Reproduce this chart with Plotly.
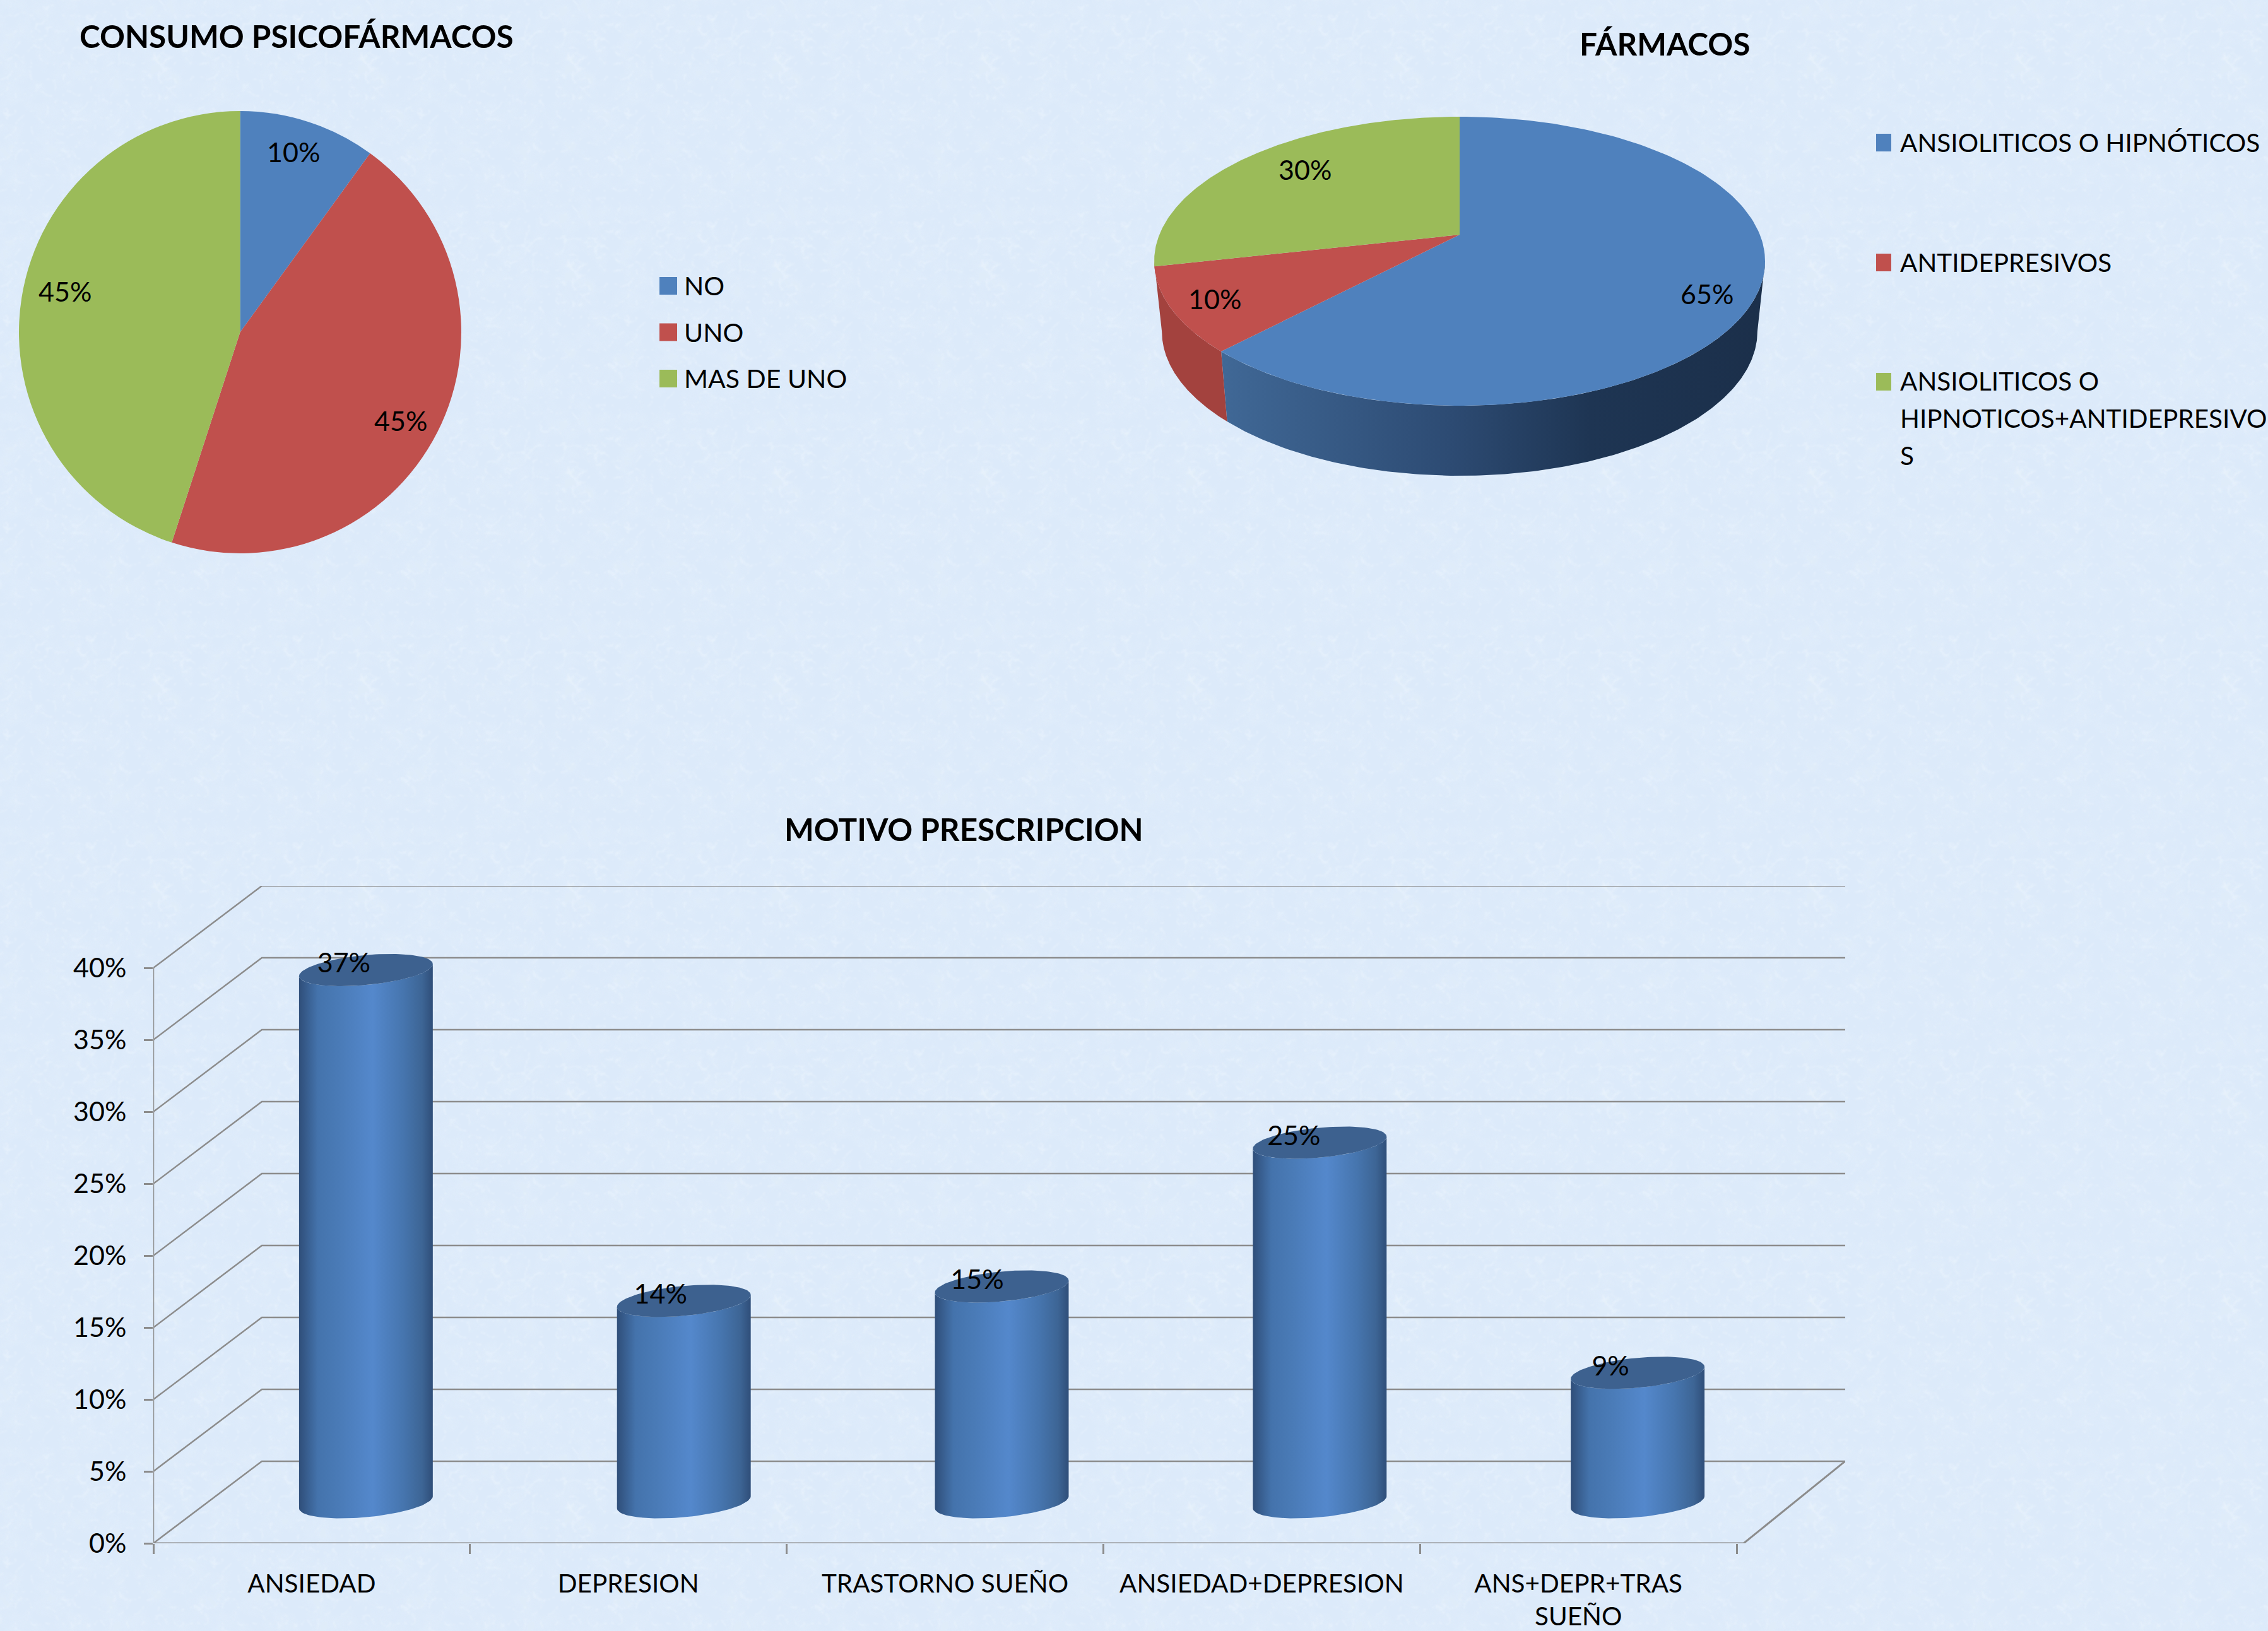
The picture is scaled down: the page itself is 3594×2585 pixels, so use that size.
import base64
import numpy as np
import plotly.graph_objects as go

W, H = 3594, 2585
FONT = "Lato"
FS = 40.5
PCT = 43

# ---- data ----
consumo_labels = ["NO", "UNO", "MAS DE UNO"]
consumo_values = [10, 45, 45]
consumo_colors = ["#4F81BD", "#C0504D", "#9BBB59"]

farmacos_lines = [["ANSIOLITICOS O HIPNÓTICOS"], ["ANTIDEPRESIVOS"],
                  ["ANSIOLITICOS O", "HIPNOTICOS+ANTIDEPRESIVO", "S"]]
farmacos_values = [65, 10, 30]

motivo_labels = ["ANSIEDAD", "DEPRESION", "TRASTORNO SUEÑO", "ANSIEDAD+DEPRESION", "ANS+DEPR+TRAS<br>SUEÑO"]
motivo_values = [37, 14, 15, 25, 9]
y_ticks = [0, 5, 10, 15, 20, 25, 30, 35, 40]

GRID = "#8C8C8C"
px = lambda x: x / W
py = lambda y: 1 - y / H

fig = go.Figure()
annotations, shapes = [], []


def text(x, y, s, size=FS, bold=False, anchor="center"):
    annotations.append(dict(x=px(x), y=py(y), xref="paper", yref="paper", text=f"<b>{s}</b>" if bold else s,
                            showarrow=False, xanchor=anchor, yanchor="middle",
                            font=dict(family=FONT, size=size, color="black")))


def swatch(x0, y0, x1, y1, color):
    shapes.append(dict(type="rect", xref="paper", yref="paper", x0=px(x0), x1=px(x1), y0=py(y0), y1=py(y1),
                       fillcolor=color, line_width=0))


# ---- flat pie ----
fig.add_trace(go.Pie(labels=consumo_labels, values=consumo_values, sort=False, direction="clockwise", rotation=0,
                     marker=dict(colors=consumo_colors, line_width=0), textinfo="none", showlegend=False,
                     domain=dict(x=[px(30), px(731)], y=[py(877), py(176)])))
for (x, y), v in zip([(465, 241), (635, 667), (103, 461)], consumo_values):
    text(x, y, f"{v}%", size=PCT)
for i, (lab, c) in enumerate(zip(consumo_labels, consumo_colors)):
    yc = 453 + 73.5 * i
    swatch(1045, yc - 14, 1073, yc + 14, c)
    text(1082, yc, lab, anchor="left", size=41)

# ---- tilted pie, on its own unit axes ----
APEX, K, DEPTH, SHRINK = 0.183, 0.96, 0.485, 0.975
frac = np.array(farmacos_values) / sum(farmacos_values)
edges = np.concatenate([[0], np.cumsum(frac)]) * 2 * np.pi


def rim(theta):
    dx, dy = np.sin(theta), K * np.cos(theta)
    b = APEX * dy
    s = (-b + np.sqrt(b ** 2 + (dx ** 2 + dy ** 2) * (1 - APEX ** 2))) / (dx ** 2 + dy ** 2)
    return s * dx, APEX + s * dy


def side(t0, t1, color_scale):
    th = np.linspace(t0, t1, 160)
    x, y = rim(th)
    fig.add_trace(go.Scatter(x=np.r_[x, SHRINK * x[::-1]], y=np.r_[y, y[::-1] - DEPTH], xaxis="x2", yaxis="y2",
                             mode="lines", line=dict(width=0), fill="toself", hoverinfo="skip", showlegend=False,
                             fillgradient=dict(type="horizontal", colorscale=color_scale)))


t_right = np.arctan2(1, -APEX / K)
t_left = 2 * np.pi - t_right
side(t_right, edges[1], [[0, "#406896"], [0.42, "#2D4B73"], [0.68, "#1E3553"], [1, "#1B2F4A"]])
side(edges[1], t_left, [[0, "#A3423E"], [1, "#A3423E"]])
for i, c in enumerate(consumo_colors):
    th = np.linspace(edges[i], edges[i + 1], 160)
    x, y = rim(th)
    fig.add_trace(go.Scatter(x=np.r_[0, x, 0], y=np.r_[APEX, y, APEX], xaxis="x2", yaxis="y2", mode="lines",
                             line=dict(width=0), fill="toself", fillcolor=c, hoverinfo="skip", showlegend=False))
for (x, y), v in zip([(2705, 465), (1925, 474), (2068, 268)], farmacos_values):
    text(x, y, f"{v}%", size=PCT)
for lines, yc, c in zip(farmacos_lines, [226, 416, 605], consumo_colors):
    swatch(2973, yc - 14, 2997, yc + 14, c)
    for j, ln in enumerate(lines):
        text(3009, yc + 58.5 * j - 1, ln, anchor="left")

# ---- 3D cylinders on real value axes ----
DX, DY = 172 / 502, 130 / 22.78
AX, TILT, BX = 106 / 502, 0.417, 1.04
STEP = 504 / 502
x_ends = len(motivo_labels)
for v in y_ticks:
    fig.add_trace(go.Scatter(x=[0, DX, x_ends + DX], y=[v, v + DY, v + DY], mode="lines",
                             line=dict(color=GRID, width=2.5), hoverinfo="skip", showlegend=False))
fig.add_trace(go.Scatter(x=[0, 0], y=[0, 40], mode="lines", line=dict(color=GRID, width=2.5),
                         hoverinfo="skip", showlegend=False))
fig.add_trace(go.Scatter(x=[0, x_ends + 0.022, x_ends + DX], y=[0, 0, DY], mode="lines",
                         line=dict(color=GRID, width=3), hoverinfo="skip", showlegend=False))

body_scale = [[0, "#2F4E79"], [0.14, "#4473AC"], [0.3, "#4A7BB7"], [0.55, "#5488CC"], [0.78, "#4675AE"],
              [0.92, "#3D6595"], [1, "#2F4E79"]]
lab_x, lab_y = [], []
for i, v in enumerate(motivo_values):
    cx, base = i * STEP + 0.5 + DX / 2, DY / 2
    tb = np.linspace(np.pi, 2 * np.pi, 60)
    xs = np.r_[cx + AX * np.cos(tb), cx + AX * np.cos(tb[::-1])]
    ys = np.r_[base + TILT * np.cos(tb) + BX * np.sin(tb), base + v + TILT * np.cos(tb[::-1]) + BX * np.sin(tb[::-1])]
    fig.add_trace(go.Scatter(x=xs, y=ys, mode="lines", line=dict(width=0), fill="toself", hoverinfo="skip",
                             showlegend=False, fillgradient=dict(type="horizontal", colorscale=body_scale)))
    tc = np.linspace(0, 2 * np.pi, 120)
    fig.add_trace(go.Scatter(x=cx + AX * np.cos(tc), y=base + v + TILT * np.cos(tc) + BX * np.sin(tc), mode="lines",
                             line=dict(width=0), fill="toself", fillcolor="#3D618F", hoverinfo="skip",
                             showlegend=False))
    lab_x.append(i + 0.5 + DX / 2 - 35 / 502)
    lab_y.append(base + v + 7 / 22.78)
fig.add_trace(go.Scatter(x=lab_x, y=lab_y, mode="text", text=[f"{v}%" for v in motivo_values],
                         textposition="middle center", textfont=dict(family=FONT, size=PCT, color="black"),
                         hoverinfo="skip", showlegend=False))

text(470, 57, "CONSUMO PSICOFÁRMACOS", size=49.5, bold=True)
text(2638, 69, "FÁRMACOS", size=49.5, bold=True)
text(1527, 1314, "MOTIVO PRESCRIPCION", size=49.5, bold=True)

# paper texture behind everything (no data): repeating tile of soft blotches and pale fibres
svg = f'''<svg xmlns="http://www.w3.org/2000/svg" width="{W}" height="{H}">
<defs>
<filter id="a" x="0" y="0" width="100%" height="100%"><feTurbulence type="fractalNoise" baseFrequency="0.03" numOctaves="4" seed="7" stitchTiles="stitch"/>
<feColorMatrix values="0 0 0 0 0.74  0 0 0 0 0.84  0 0 0 0 0.96  3 0 0 0 -1.2"/></filter>
<filter id="b" x="0" y="0" width="100%" height="100%"><feTurbulence type="turbulence" baseFrequency="0.04" numOctaves="3" seed="11" stitchTiles="stitch"/>
<feColorMatrix values="0 0 0 0 0.95  0 0 0 0 0.98  0 0 0 0 1  -7 0 0 0 1.0"/><feGaussianBlur stdDeviation="0.8"/></filter>
<pattern id="t" width="328" height="328" patternUnits="userSpaceOnUse">
<rect width="328" height="328" fill="#DCEAFA"/>
<rect width="328" height="328" filter="url(#a)" opacity="0.85"/>
<rect width="328" height="328" filter="url(#b)" opacity="0.4"/>
</pattern></defs>
<rect width="100%" height="100%" fill="url(#t)"/></svg>'''
bg = "data:image/svg+xml;base64," + base64.b64encode(svg.encode()).decode()

fig.update_layout(
    width=W, height=H, margin=dict(l=0, r=0, t=0, b=0), autosize=False,
    paper_bgcolor="#DDEBFA", plot_bgcolor="rgba(0,0,0,0)", showlegend=False,
    font=dict(family=FONT, size=FS, color="black"),
    images=[dict(source=bg, xref="paper", yref="paper", x=0, y=1, sizex=1, sizey=1, sizing="stretch", layer="below")],
    annotations=annotations, shapes=shapes,
    xaxis=dict(domain=[px(243), px(2924)], range=[0, x_ends + DX], showgrid=False, zeroline=False, showline=False,
               automargin=False,
               tickmode="array", tickvals=[i + 0.5 for i in range(x_ends)], ticktext=motivo_labels, ticks="",
               tickfont=dict(family=FONT, size=FS, color="black"), ticklabelstandoff=36, tickangle=0,
               minor=dict(tickmode="array", tickvals=list(range(x_ends + 1)), ticks="outside", ticklen=16,
                          tickwidth=2.5, tickcolor=GRID, showgrid=False)),
    yaxis=dict(domain=[py(2446), py(1404)], range=[0, 40 + DY], showgrid=False, zeroline=False, showline=False,
               automargin=False,
               tickmode="array", tickvals=y_ticks, ticktext=[f"{v}%" for v in y_ticks], ticks="outside", ticklen=14,
               tickwidth=2.5, tickcolor=GRID, tickfont=dict(family=FONT, size=PCT, color="black"),
               ticklabelstandoff=19),
    xaxis2=dict(domain=[px(1829), px(2797)], range=[-1, 1], visible=False, anchor="y2", automargin=False),
    yaxis2=dict(domain=[py(754), py(185)], range=[-1 - DEPTH, 1], visible=False, anchor="x2", automargin=False),
)
fig.write_html("out.html", config=dict(displayModeBar=False),
               post_script="document.body.style.margin='0';document.body.style.background='#DDEBFA';document.documentElement.style.overflow='hidden';")
